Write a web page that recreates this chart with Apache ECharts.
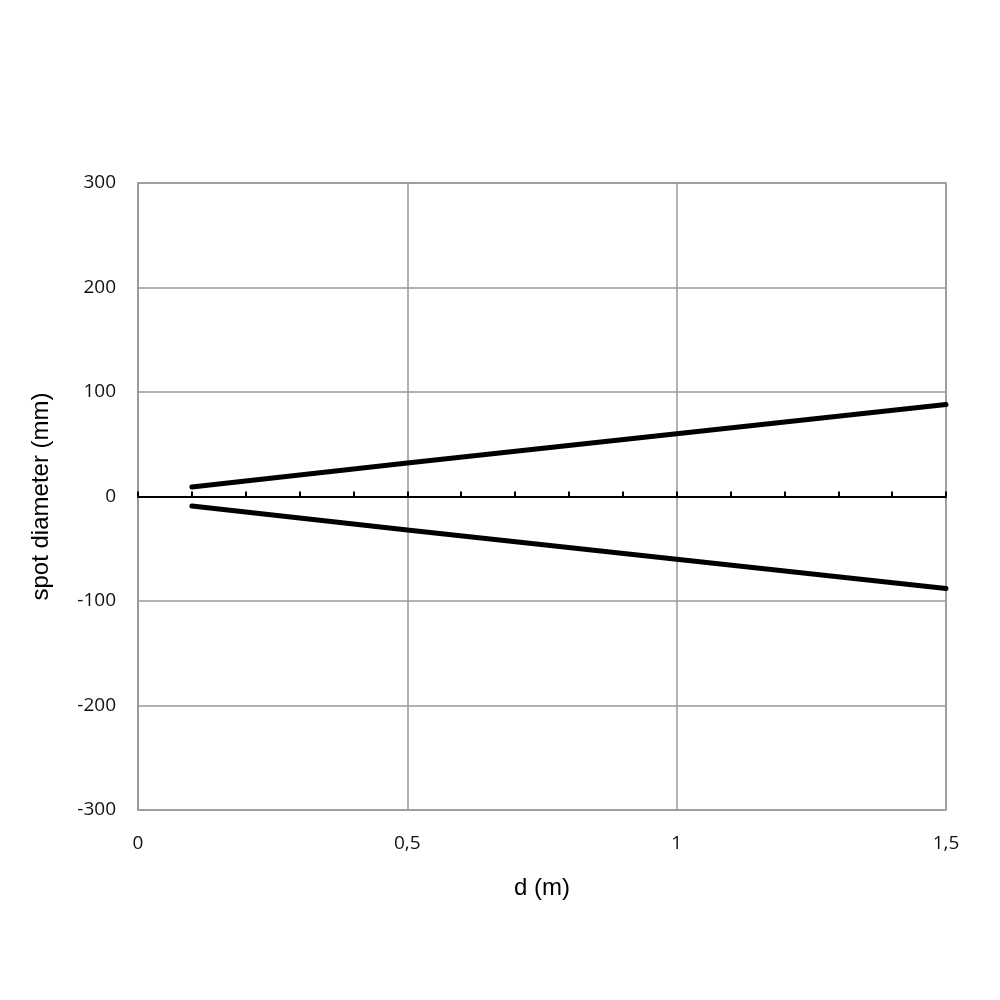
<!DOCTYPE html>
<html><head><meta charset="utf-8">
<script src="https://cdn.jsdelivr.net/npm/echarts@6/dist/echarts.min.js"></script>
<style>html,body{margin:0;padding:0;background:#fff}#c{width:1000px;height:1000px}</style>
</head><body><div id="c"></div>
<script>
const distances = [0.1, 0.5, 1.0, 1.5];
const upperSpot = [9, 32, 60, 88];
const lowerSpot = [-9, -32, -60, -88];
const yTicks = [-300, -200, -100, 0, 100, 200, 300];
const xTitle = 'd (m)';
const yTitle = 'spot diameter (mm)';

const chart = echarts.init(document.getElementById('c'));
const lblFont = '"Open Sans", "Noto Sans", sans-serif';
chart.setOption({
  animation: false,
  grid: { left: 138, right: 54, top: 183, bottom: 190, show: true, borderColor: '#999', borderWidth: 1.5, backgroundColor: '#fff' },
  xAxis: [
    { type: 'value', min: 0, max: 1.5, interval: 0.5,
      axisLine: { show: false, onZero: false },
      axisTick: { show: false },
      splitLine: { show: true, lineStyle: { color: '#999', width: 1.5 } },
      axisLabel: { margin: 24, fontSize: 19, color: '#111', fontFamily: lblFont, formatter: v => String(v).replace('.', ',') },
      name: xTitle, nameLocation: 'middle', nameGap: 66,
      nameTextStyle: { fontSize: 24, color: '#000', fontFamily: 'Liberation Sans, Arial, sans-serif' } },
    { type: 'value', min: 0, max: 1.5, interval: 0.1, position: 'bottom',
      axisLine: { show: true, onZero: true, onZeroAxisIndex: 0, lineStyle: { color: '#000', width: 2 } },
      axisTick: { show: true, inside: true, length: 5, lineStyle: { color: '#000', width: 2 } },
      axisLabel: { show: false }, splitLine: { show: false } }
  ],
  yAxis: { type: 'value', min: -300, max: 300, interval: 100,
    axisLine: { show: true, lineStyle: { color: '#999', width: 1.5 } },
    axisTick: { show: false },
    splitLine: { show: true, lineStyle: { color: '#999', width: 1.5 } },
    axisLabel: { margin: 22, fontSize: 19, color: '#111', fontFamily: lblFont, padding: [4, 0, 0, 0] },
    name: yTitle, nameLocation: 'middle', nameGap: 85, nameRotate: 90,
    nameTextStyle: { fontSize: 24, color: '#000', fontFamily: 'Liberation Sans, Arial, sans-serif' } },
  series: [
    { type: 'line', data: distances.map((d, i) => [d, upperSpot[i]]), showSymbol: false, symbol: 'none',
      lineStyle: { color: '#000', width: 5, cap: 'round' } },
    { type: 'line', data: distances.map((d, i) => [d, lowerSpot[i]]), showSymbol: false, symbol: 'none',
      lineStyle: { color: '#000', width: 5, cap: 'round' } }
  ]
});
</script></body></html>
